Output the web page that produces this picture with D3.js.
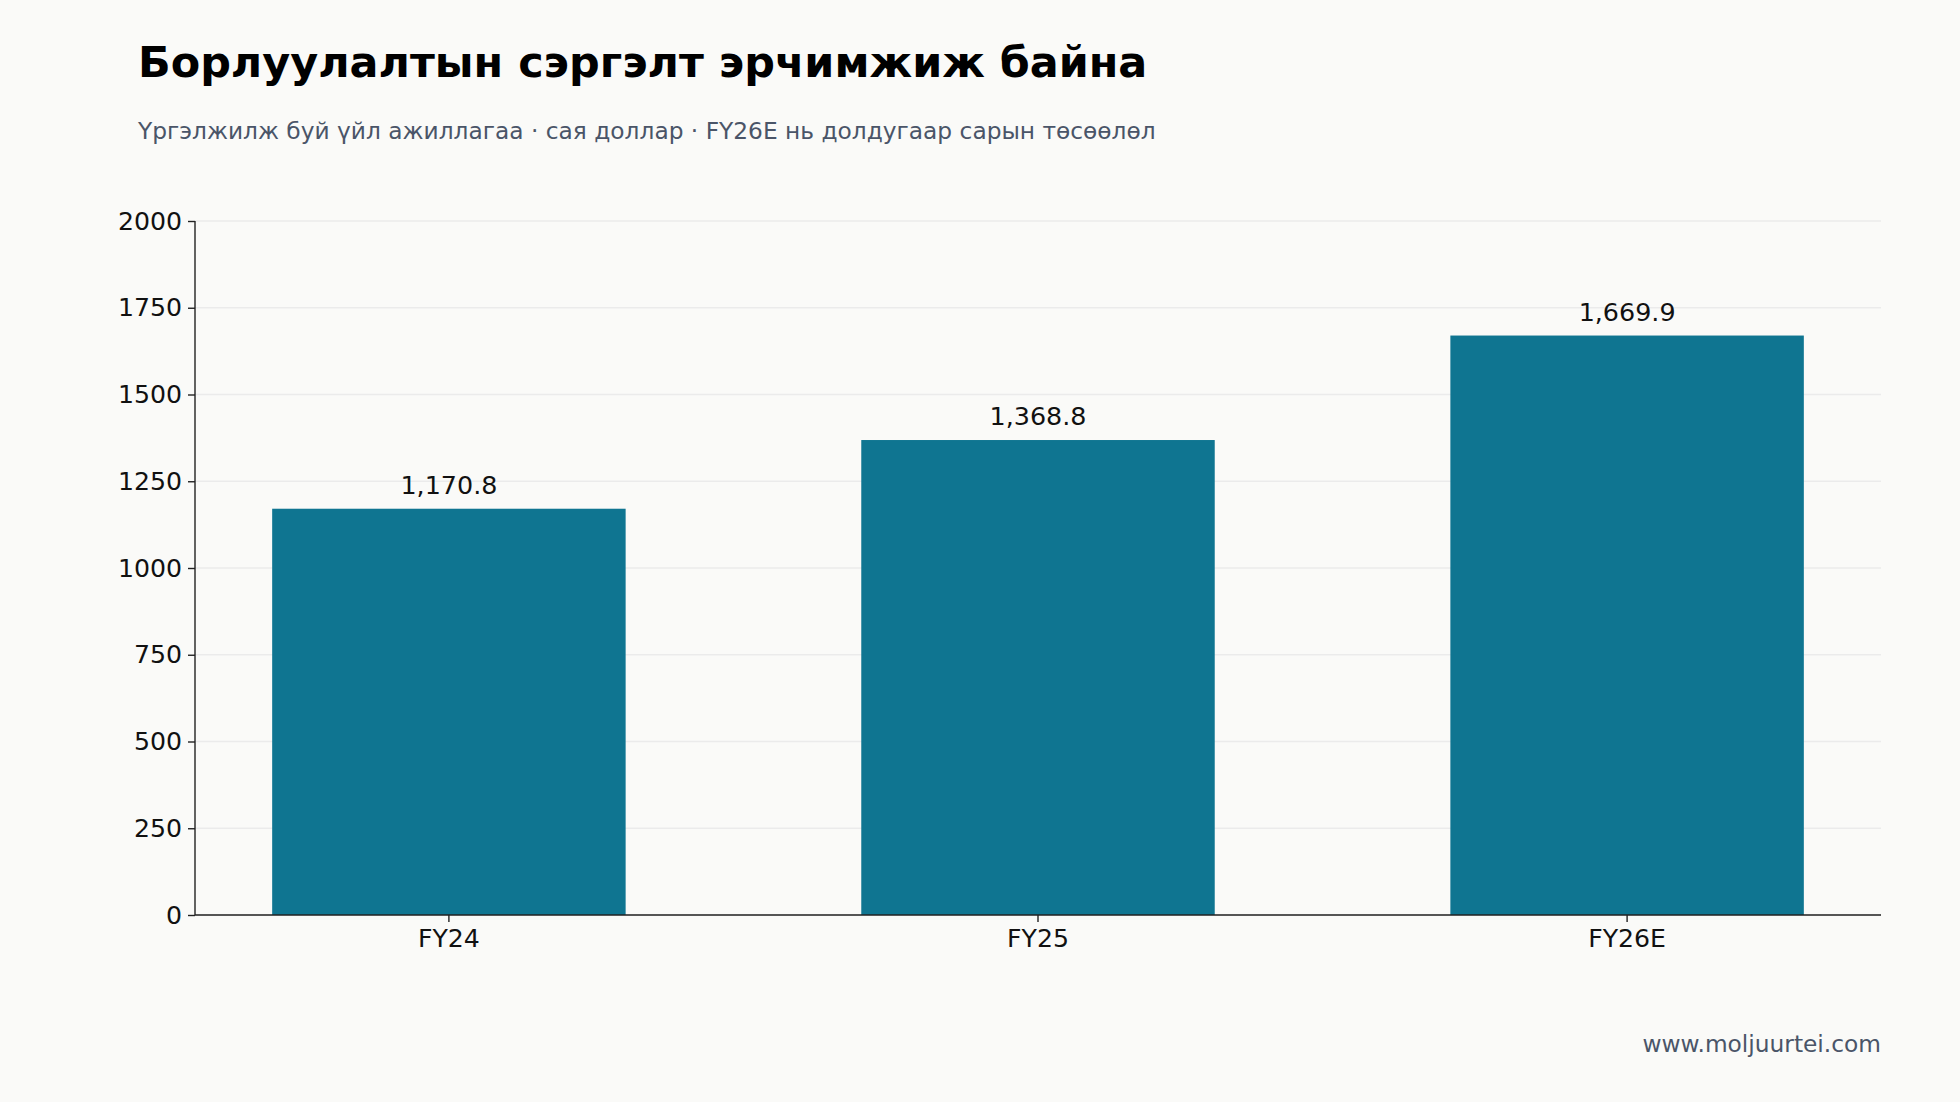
<!DOCTYPE html>
<html>
<head>
<meta charset="utf-8">
<script src="https://cdn.jsdelivr.net/npm/d3@7/dist/d3.min.js"></script>
<style>
  html, body { margin: 0; padding: 0; background: #fafaf8; }
  svg { display: block; }
  text { font-family: "DejaVu Sans", sans-serif; }
</style>
</head>
<body>
<svg id="chart" width="1960" height="1102"></svg>
<script>
const categories = ["FY24", "FY25", "FY26E"];
const values = [1170.8, 1368.8, 1669.9];
const yTicks = [0, 250, 500, 750, 1000, 1250, 1500, 1750, 2000];
const title = "Борлуулалтын сэргэлт эрчимжиж байна";
const subtitle = "Үргэлжилж буй үйл ажиллагаа · сая доллар · FY26E нь долдугаар сарын төсөөлөл";
const footer = "www.moljuurtei.com";

const W = 1960, H = 1102;
const m = { left: 195, right: 1881, top: 221, bottom: 915 };
const barColor = "#0f7591";

const svg = d3.select("#chart");
svg.append("rect").attr("width", W).attr("height", H).attr("fill", "#fafaf8");

const x = d3.scaleBand().domain(categories).range([m.left, m.right])
  .paddingInner(0.4).paddingOuter(0.131);
const y = d3.scaleLinear().domain([0, 2000]).range([m.bottom, m.top]);

// gridlines
svg.append("g").selectAll("line").data(yTicks).join("line")
  .attr("x1", m.left).attr("x2", m.right)
  .attr("y1", d => y(d)).attr("y2", d => y(d))
  .attr("stroke", "#ebebeb").attr("stroke-width", 1.3);

// bars
svg.append("g").selectAll("rect").data(values).join("rect")
  .attr("x", (d, i) => x(categories[i]))
  .attr("width", x.bandwidth())
  .attr("y", d => y(d))
  .attr("height", d => y(0) - y(d))
  .attr("fill", barColor);

// value labels
const fmt = d3.format(",.1f");
svg.append("g").selectAll("text").data(values).join("text")
  .attr("x", (d, i) => x(categories[i]) + x.bandwidth() / 2)
  .attr("y", d => y(d) - 15)
  .attr("text-anchor", "middle")
  .attr("font-size", 25.4)
  .attr("fill", "#111")
  .text(d => fmt(d));

// axes
const yAxis = d3.axisLeft(y).tickValues(yTicks).tickSize(7).tickPadding(6).tickFormat(d3.format("d"));
const gy = svg.append("g").attr("transform", `translate(${m.left},0)`).call(yAxis);
gy.select(".domain").attr("d", `M0,${m.bottom}V${m.top}`);

const xAxis = d3.axisBottom(x).tickSize(7).tickPadding(7);
const gx = svg.append("g").attr("transform", `translate(0,${m.bottom})`).call(xAxis);
gx.select(".domain").attr("d", `M${m.left},0H${m.right}`);

[gy, gx].forEach(g => {
  g.select(".domain").attr("stroke", "#222").attr("stroke-width", 1.4);
  g.selectAll(".tick line").attr("stroke", "#222").attr("stroke-width", 1.4);
  g.selectAll(".tick text").attr("font-size", 25.2).attr("fill", "#111")
    .attr("font-family", "DejaVu Sans, sans-serif");
});

// titles
svg.append("text").attr("x", 138).attr("y", 77)
  .attr("font-size", 42.9).attr("font-weight", "bold").attr("fill", "#000")
  .text(title);
svg.append("text").attr("x", 138).attr("y", 138.5)
  .attr("font-size", 23.3).attr("fill", "#4a5568")
  .text(subtitle);
svg.append("text").attr("x", m.right).attr("y", 1052)
  .attr("text-anchor", "end")
  .attr("font-size", 23.3).attr("fill", "#4a5568")
  .text(footer);
</script>
</body>
</html>
